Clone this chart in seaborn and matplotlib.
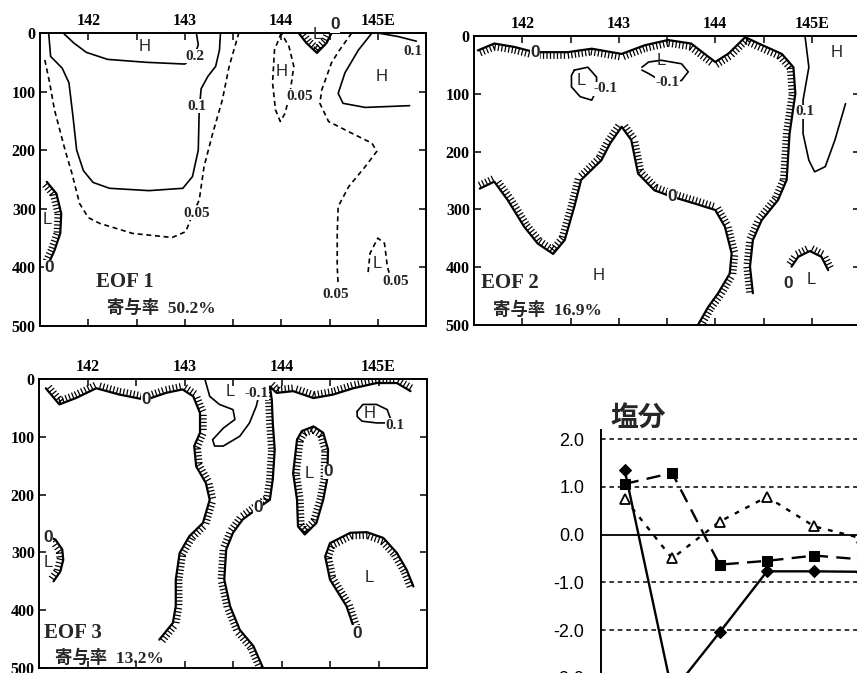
"""EOF depth sections (0-500 m, 141.5-145.5E) for three modes plus a salinity score panel."""

import matplotlib
matplotlib.use("Agg")
import matplotlib.pyplot as plt
import matplotlib.patheffects as pe
from matplotlib.ticker import MultipleLocator
import seaborn as sns

# ── Contour traces: (longitude °E, depth m) ─────────────────────────────────

# EOF 1
E1_P020 = [(141.74, 0), (141.85, 17), (141.98, 33), (142.2, 45), (142.6, 50), (143.0, 53),
           (143.1, 40), (143.14, 20), (143.12, 0)]
E1_P010 = [(141.59, 0), (141.61, 40), (141.73, 60), (141.8, 85), (141.84, 140), (141.88, 200),
           (141.95, 235), (142.05, 255), (142.22, 265), (142.63, 269), (142.98, 265),
           (143.08, 245), (143.14, 200), (143.15, 131), (143.17, 95), (143.24, 74),
           (143.32, 57), (143.36, 29), (143.37, 0)]
E1_P005_W = [(141.55, 46), (141.6, 85), (141.65, 131), (141.76, 200), (141.83, 239), (141.91, 291),
             (142.0, 315), (142.12, 325), (142.46, 342), (142.87, 349), (143.01, 339),
             (143.08, 310), (143.15, 285), (143.2, 228), (143.29, 171), (143.39, 114),
             (143.46, 57), (143.56, 0)]
E1_P005_C = [(144.0, 0), (143.93, 29), (143.91, 85), (143.94, 131), (143.99, 151), (144.04, 137),
             (144.09, 103), (144.13, 57), (144.08, 23), (144.0, 0)]
E1_ZERO_T = [(144.18, 0), (144.26, 17), (144.37, 34), (144.47, 17), (144.52, 0)]
E1_P005_E = [(144.73, 0), (144.6, 30), (144.52, 51), (144.42, 97), (144.4, 120), (144.49, 151),
             (144.73, 171), (144.94, 188), (144.99, 202), (144.87, 228), (144.7, 262),
             (144.59, 296), (144.58, 342), (144.58, 399), (144.59, 430)]
E1_P010_E = [(144.94, 0), (144.8, 29), (144.66, 68), (144.59, 103), (144.64, 120), (144.87, 127),
             (145.33, 124)]
E1_P010_NE = [(145.0, 0), (145.21, 6), (145.4, 14)]
E1_ZERO_W = [(141.57, 254), (141.67, 274), (141.72, 308), (141.71, 342), (141.65, 371),
             (141.59, 393)]
E1_P005_S = [(144.9, 408), (144.92, 376), (145.0, 350), (145.07, 359), (145.1, 399),
             (145.12, 410)]

# EOF 2
E2_ZERO_T = [(141.54, 25), (141.71, 13), (141.92, 19), (142.13, 28), (142.47, 28), (142.72, 22),
             (143.03, 31), (143.27, 16), (143.51, 7), (143.75, 13), (144.0, 45), (144.14, 30),
             (144.31, 2), (144.45, 13), (144.69, 31), (144.81, 54), (144.83, 100),
             (144.77, 169), (144.74, 249), (144.65, 284), (144.48, 319), (144.39, 353),
             (144.36, 399), (144.39, 445)]
E2_ZERO_B = [(141.56, 264), (141.71, 252), (141.85, 284), (142.02, 330), (142.16, 359),
             (142.32, 377), (142.44, 353), (142.54, 295), (142.61, 249), (142.82, 215),
             (142.91, 186), (143.03, 157), (143.13, 180), (143.2, 238), (143.37, 267),
             (143.55, 278), (143.79, 290), (144.0, 301), (144.1, 330), (144.17, 376),
             (144.15, 411), (144.03, 445), (143.93, 468), (143.82, 500)]
E2_N010_A = [(142.54, 59), (142.68, 54), (142.77, 71), (142.77, 94), (142.72, 111), (142.6, 105),
             (142.51, 88), (142.51, 68), (142.54, 59)]
E2_N010_B = [(143.24, 54), (143.31, 45), (143.44, 42), (143.65, 48), (143.72, 62), (143.65, 77),
             (143.51, 79), (143.4, 74), (143.31, 65), (143.24, 59)]
E2_P010 = [(144.93, 0), (144.97, 54), (144.91, 111), (144.91, 169), (144.97, 215), (145.03, 235),
           (145.14, 226), (145.24, 180), (145.35, 117)]
E2_ZERO_S = [(144.79, 399), (144.86, 382), (144.98, 372), (145.1, 382), (145.17, 405)]

# EOF 3
E3_ZERO_W = [(141.57, 16), (141.71, 44), (141.88, 33), (142.09, 16), (142.33, 27), (142.6, 36),
             (142.81, 24), (142.98, 18), (143.09, 30), (143.16, 59), (143.16, 93), (143.1, 116),
             (143.12, 151), (143.22, 180), (143.26, 209), (143.19, 249), (143.05, 272),
             (142.95, 301), (142.91, 347), (142.91, 393), (142.88, 422), (142.74, 451)]
E3_ZERO_E = [(143.81, 500), (143.71, 462), (143.57, 434), (143.47, 393), (143.41, 347),
             (143.43, 295), (143.5, 266), (143.6, 243), (143.76, 223), (143.88, 209),
             (143.91, 174), (143.93, 122), (143.91, 76), (143.9, 36), (143.88, 13),
             (143.95, 24), (144.12, 21), (144.33, 33), (144.53, 27), (144.74, 16),
             (144.98, 7), (145.19, 7), (145.33, 21)]
E3_N010 = [(143.21, 0), (143.26, 30), (143.36, 44), (143.5, 53), (143.52, 70), (143.4, 85),
           (143.29, 105), (143.31, 116), (143.4, 116), (143.57, 99), (143.67, 76),
           (143.74, 47), (143.76, 33)]
E3_ZERO_LOOP = [(144.16, 105), (144.21, 90), (144.33, 82), (144.43, 93), (144.48, 122),
                (144.47, 174), (144.43, 209), (144.36, 249), (144.24, 269), (144.17, 255),
                (144.16, 209), (144.12, 163), (144.16, 105)]
E3_ZERO_ARC = [(144.76, 437), (144.67, 393), (144.5, 347), (144.45, 307), (144.5, 284),
               (144.71, 266), (144.88, 265), (145.05, 275), (145.19, 301), (145.29, 330),
               (145.36, 359)]
E3_ZERO_L = [(141.59, 272), (141.67, 278), (141.74, 295), (141.75, 313), (141.72, 333),
             (141.65, 350)]
E3_P010 = [(144.78, 56), (144.84, 44), (144.98, 44), (145.09, 53), (145.12, 67), (145.16, 76),
           (144.98, 76), (144.83, 73), (144.78, 65), (144.78, 56)]

# Contribution rates
EOF_NAMES = ["EOF 1", "EOF 2", "EOF 3"]
EOF_RATES = ["50.2%", "16.9%", "13.2%"]

# Salinity scores
SAL_X = [0, 1, 2, 3, 4, 5]
SAL_SOLID = [1.35, -3.3, -2.05, -0.77, -0.77, -0.78]
SAL_DASH = [1.06, 1.29, -0.63, -0.55, -0.44, -0.52]
SAL_DOT = [0.75, -0.5, 0.27, 0.79, 0.17, -0.08]
SAL_TICKS = [2.0, 1.0, 0.0, -1.0, -2.0, -3.0]

LON_TICKS = [142, 143, 144, 145]
LON_LABELS = ["142", "143", "144", "145E"]
DEPTH_TICKS = [0, 100, 200, 300, 400, 500]

# ── Drawing recipes: (trace, kind, tick side) ────────────────────────────────

PANEL1 = [(E1_P020, "solid", None), (E1_P010, "solid", None), (E1_P005_W, "dash", None),
          (E1_P005_C, "dash", None), (E1_ZERO_T, "zero", 90), (E1_P005_E, "dash", None),
          (E1_P010_E, "solid", None), (E1_P010_NE, "solid", None), (E1_ZERO_W, "zero", -90),
          (E1_P005_S, "dash", None)]
PANEL2 = [(E2_ZERO_T, "zero", -90), (E2_ZERO_B, "zero", 90), (E2_N010_A, "solid", None),
          (E2_N010_B, "solid", None), (E2_P010, "solid", None), (E2_ZERO_S, "zero", 90)]
PANEL3 = [(E3_ZERO_W, "zero", 90), (E3_ZERO_E, "zero", 90), (E3_N010, "solid", None),
          (E3_ZERO_LOOP, "zero", -90), (E3_ZERO_ARC, "zero", -90), (E3_ZERO_L, "zero", -90),
          (E3_P010, "solid", None)]

LABELS1 = [(143.1, 40, "0.2", "val"), (143.13, 125, "0.1", "val"), (143.12, 308, "0.05", "val"),
           (144.19, 108, "0.05", "val"), (144.56, 447, "0.05", "val"), (145.36, 31, "0.1", "val"),
           (145.19, 424, "0.05", "val"), (142.58, 23, "H", "hl"), (144.0, 66, "H", "hl"),
           (145.04, 74, "H", "hl"), (144.37, 3, "L", "hl"), (141.57, 319, "L", "hl"),
           (145.0, 393, "L", "hl"), (144.56, -14, "0", "zero"), (141.6, 400, "0", "zero")]
LABELS2 = [(142.13, 28, "0", "zero"), (143.55, 278, "0", "zero"), (144.76, 428, "0", "zero"),
           (142.61, 77, "L", "hl"), (143.44, 42, "L", "hl"), (145.0, 422, "L", "hl"),
           (145.26, 28, "H", "hl"), (142.79, 414, "H", "hl"),
           (142.86, 91, "-0.1", "val"), (143.51, 80, "-0.1", "val"), (144.93, 131, "0.1", "val")]
LABELS3 = [(142.6, 36, "0", "zero"), (143.76, 223, "0", "zero"), (144.48, 160, "0", "zero"),
           (144.78, 440, "0", "zero"), (141.59, 275, "0", "zero"),
           (143.47, 21, "L", "hl"), (144.29, 163, "L", "hl"), (144.9, 344, "L", "hl"),
           (141.6, 318, "L", "hl"), (144.91, 59, "H", "hl"),
           (143.74, 25, "-0.1", "val"), (145.17, 80, "0.1", "val")]

SERIF = ["Liberation Serif", "Noto Sans CJK JP"]
SANS = ["Liberation Sans", "DejaVu Sans"]


def draw_trace(ax, pts, kind, side):
    lon = [p[0] for p in pts]
    dep = [p[1] for p in pts]
    if kind == "solid":
        ax.plot(lon, dep, color="black", lw=1.2, zorder=3)
    elif kind == "dash":
        ax.plot(lon, dep, color="black", lw=1.2, ls=(0, (3, 2.2)), zorder=3)
    else:
        ax.plot(lon, dep, color="black", lw=1.6, zorder=3,
                path_effects=[pe.withTickedStroke(angle=side, spacing=2.5, length=1.8,
                                                  linewidth=0.9)])


def put_label(ax, lon, dep, txt, kind):
    if kind == "val":
        ax.text(lon, dep, txt, ha="center", va="center", fontsize=11, fontweight="bold",
                family=SERIF, zorder=5, clip_on=False,
                bbox=dict(facecolor="white", edgecolor="none", pad=0.3))
    elif kind == "hl":
        ax.text(lon, dep, txt, ha="center", va="center", fontsize=12, family=SANS,
                zorder=5, clip_on=False)
    else:
        ax.text(lon, dep, txt, ha="center", va="center", fontsize=12.5, fontweight="bold",
                family=SANS, zorder=5, clip_on=False,
                bbox=dict(facecolor="white", edgecolor="none", pad=0.2))


def style_section(ax):
    ax.set_xlim(141.5, 145.5)
    ax.set_ylim(500, 0)
    ax.set_xticks(LON_TICKS)
    ax.set_xticklabels(LON_LABELS)
    ax.xaxis.set_minor_locator(MultipleLocator(0.5))
    ax.set_yticks(DEPTH_TICKS)
    ax.tick_params(which="both", direction="in", top=True, bottom=True, left=True, right=True,
                   labeltop=True, labelbottom=False, length=5, width=1.1, pad=3,
                   colors="black")
    for lab in ax.get_xticklabels() + ax.get_yticklabels():
        lab.set_family(SERIF)
        lab.set_fontweight("bold")
        lab.set_fontsize(11.5)
    for s in ax.spines.values():
        s.set_visible(True)
        s.set_linewidth(1.4)
        s.set_color("black")
    ax.grid(False)


sns.set_theme(style="white")
plt.rcParams["font.family"] = SERIF + ["DejaVu Sans"]

fig = plt.figure(figsize=(8.57, 6.73), dpi=100)
fig.patch.set_facecolor("white")

ax1 = fig.add_axes([40 / 857, 1 - 326 / 673, 386 / 857, 293 / 673])
ax2 = fig.add_axes([474 / 857, 1 - 325 / 673, 386 / 857, 289 / 673])
ax3 = fig.add_axes([39 / 857, 1 - 668 / 673, 388 / 857, 289 / 673])

text_at = [(142.08, 425, 142.19, 470), (141.57, 428, 141.7, 474), (141.55, 439, 141.67, 483)]

for i, (ax, recipe, labels) in enumerate(zip([ax1, ax2, ax3], [PANEL1, PANEL2, PANEL3],
                                               [LABELS1, LABELS2, LABELS3])):
    style_section(ax)
    for pts, kind, side in recipe:
        draw_trace(ax, pts, kind, side)
    for lon, dep, txt, kind in labels:
        put_label(ax, lon, dep, txt, kind)
    x0, y0, x1, y1 = text_at[i]
    ax.text(x0, y0, EOF_NAMES[i], ha="left", va="center", fontsize=15, fontweight="bold",
            family=SERIF)
    ax.text(x1, y1, "寄与率  " + EOF_RATES[i], ha="left", va="center", fontsize=12.5,
            fontweight="bold", family=SERIF)

# ── Salinity panel ───────────────────────────────────────────────────────────
ax4 = fig.add_axes([601 / 857, (673 - 701.7) / 673, 332 / 857, 272.2 / 673])
ax4.set_xlim(-0.5, 6.5)
ax4.set_ylim(-3.5, 2.2)
for v in SAL_TICKS:
    if v != 0:
        ax4.axhline(v, color="black", lw=1.1, ls=(0, (3, 2.5)), zorder=1)

sns.lineplot(x=SAL_X, y=SAL_SOLID, ax=ax4, color="black", lw=1.7, marker="D", markersize=6.5,
             markerfacecolor="black", markeredgecolor="black", zorder=4)
sns.lineplot(x=SAL_X, y=SAL_DASH, ax=ax4, color="black", lw=1.7, ls=(0, (6, 3.5)), marker="s",
             markersize=6.5, markerfacecolor="black", markeredgecolor="black", zorder=4)
sns.lineplot(x=SAL_X, y=SAL_DOT, ax=ax4, color="black", lw=1.7, ls=(0, (2, 3)), marker="^",
             markersize=7.5, markerfacecolor="white", markeredgecolor="black",
             markeredgewidth=1.3, zorder=4)

for k in ["top", "right"]:
    ax4.spines[k].set_visible(False)
ax4.spines["left"].set_color("black")
ax4.spines["left"].set_linewidth(1.4)
ax4.spines["bottom"].set_position(("data", 0))
ax4.spines["bottom"].set_color("black")
ax4.spines["bottom"].set_linewidth(1.3)
ax4.set_xticks([0.5, 1.5, 2.5, 3.5, 4.5, 5.5])
ax4.tick_params(axis="x", direction="in", length=4, width=1.1, labelbottom=False,
                colors="black")
ax4.set_yticks(SAL_TICKS)
ax4.set_yticklabels([f"{v:.1f}" for v in SAL_TICKS])
ax4.tick_params(axis="y", length=0, pad=12)
for lab in ax4.get_yticklabels():
    lab.set_family(SANS)
    lab.set_fontsize(13)
    lab.set_color("black")
ax4.set_xlabel("")
ax4.set_ylabel("")
ax4.grid(False)

fig.text(638 / 857, 1 - 419 / 673, "塩分", ha="center", va="center", fontsize=20,
         fontweight="bold", family=["Noto Sans CJK JP"])

fig.savefig("out.png", dpi=100, facecolor="white")
